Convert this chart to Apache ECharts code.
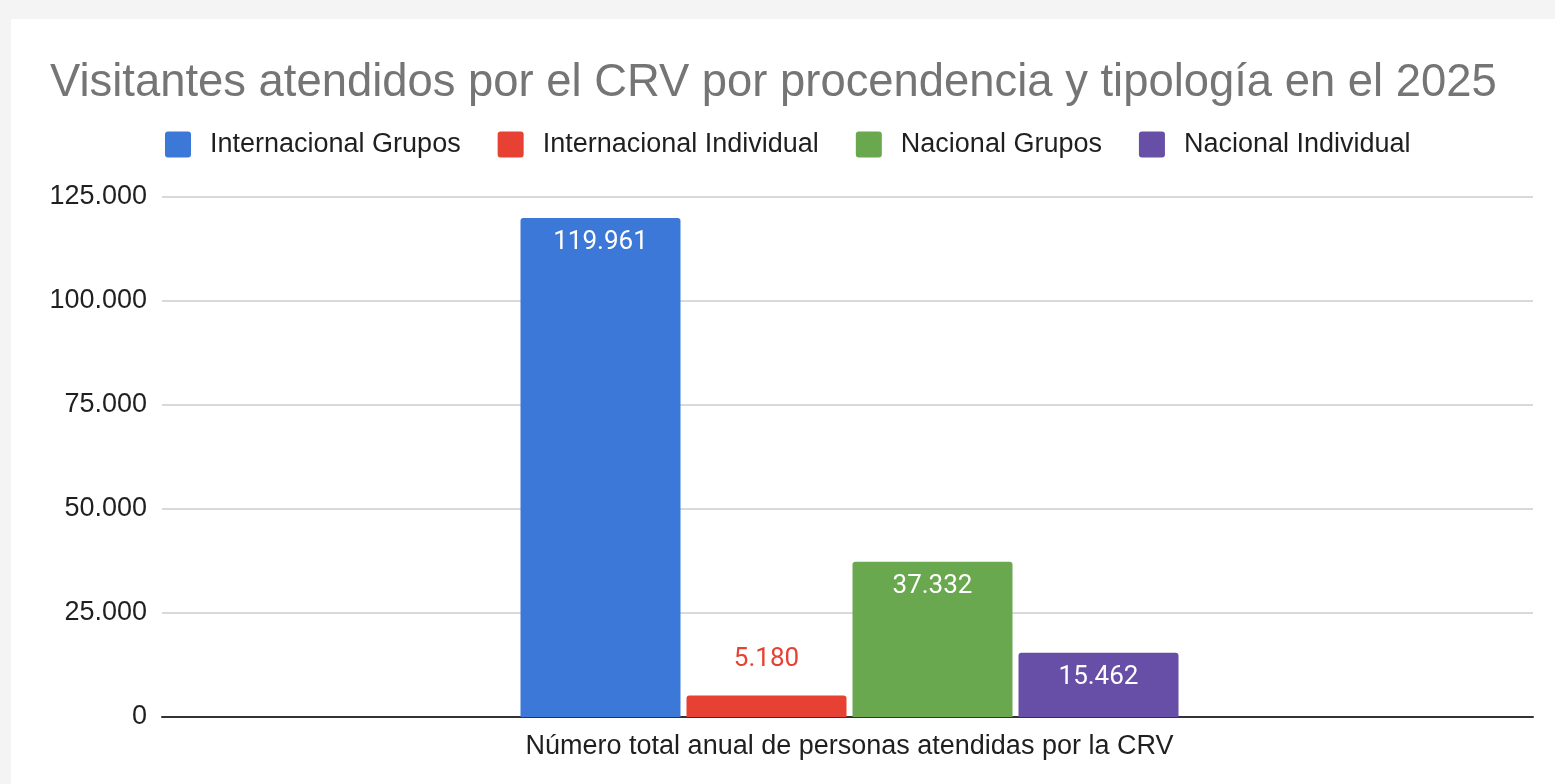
<html>
<head>
<meta charset="UTF-8">
<title>Visitantes CRV 2025</title>
<script src="https://cdn.jsdelivr.net/npm/echarts@6/dist/echarts.min.js"></script>
<style>
  body { margin:0; background:#f4f4f4; }
  #main { position:absolute; left:11px; top:19px; width:1544px; height:765px; background:#fff; }
</style>
</head>
<body>
<div id="main"></div>
<script>
// datos
var categorias = ['Número total anual de personas atendidas por la CRV'];
var series_nombres = ['Internacional Grupos', 'Internacional Individual', 'Nacional Grupos', 'Nacional Individual'];
var valores = [119961, 5180, 37332, 15462];
var colores = ['#3c78d8', '#e64133', '#6aa84f', '#674ea7'];
var ticks_y = [0, 25000, 50000, 75000, 100000, 125000];

function fmt(v){
	return String(v).replace(/\B(?=(\d{3})+(?!\d))/g, '.');
}

var series = [];
for(var i = 0;i<series_nombres.length;i++){
	var dentro = valores[i] > 10000; // barras bajas llevan la etiqueta fuera
	series.push({
		name: series_nombres[i],
		type: 'bar',
		xAxisIndex: 1,
		yAxisIndex: 1,
		barWidth: 160,
		barGap: '3.75%',
		data: [valores[i]],
		itemStyle: { color: colores[i], borderRadius: [3,3,0,0] },
		label: {
			show: true,
			position: dentro ? 'insideTop' : 'top',
			distance: dentro ? 12 : 23,
			color: dentro ? '#fff' : colores[i],
			fontFamily: 'Roboto',
			fontSize: 26,
			formatter: function(p){ return fmt(p.value); }
		}
	});
}

var option = {
	animation: false,
	title: {
		text: 'Visitantes atendidos por el CRV por procendencia y tipología en el 2025',
		left: 34,
		top: 37,
		textStyle: { fontFamily: 'Liberation Sans', fontSize: 45.4, fontWeight: 'normal', color: '#757575' }
	},
	legend: {
		left: 149,
		top: 107,
		itemWidth: 26,
		itemHeight: 26,
		itemGap: 37,
		icon: 'path://M3,0H23Q26,0 26,3V23Q26,26 23,26H3Q0,26 0,23V3Q0,0 3,0Z',
		data: series_nombres,
		textStyle: { fontFamily: 'Liberation Sans', fontSize: 27, color: '#1f1f1f', padding: [0,0,0,14] }
	},
	grid: [
		{ left: 151, right: 22, top: 178, bottom: 67 },
		{ left: 155, right: 22, top: 178, bottom: 67 }
	],
	xAxis: [
		{
			gridIndex: 0, type: 'category', data: [''],
			axisLine: { lineStyle: { color: '#333', width: 2 } },
			axisTick: { show: false }, axisLabel: { show: false }
		},
		{
			gridIndex: 1, type: 'category', data: categorias,
			axisLine: { show: false }, axisTick: { show: false },
			axisLabel: { margin: 16, fontFamily: 'Liberation Sans', fontSize: 27, color: '#1f1f1f' }
		}
	],
	yAxis: [
		{
			gridIndex: 0, type: 'value', min: ticks_y[0], max: ticks_y[ticks_y.length-1], interval: 25000,
			axisLine: { show: false }, axisTick: { show: false },
			splitLine: { lineStyle: { color: '#cccccc', width: 1.5 } },
			axisLabel: { margin: 15, fontFamily: 'Liberation Sans', fontSize: 27, color: '#1f1f1f', formatter: fmt }
		},
		{
			gridIndex: 1, type: 'value', min: ticks_y[0], max: ticks_y[ticks_y.length-1], interval: 25000,
			show: false, splitLine: { show: false }
		}
	],
	series: series
};

var chart = echarts.init(document.getElementById('main'));
chart.setOption(option);
</script>
</body>
</html>
